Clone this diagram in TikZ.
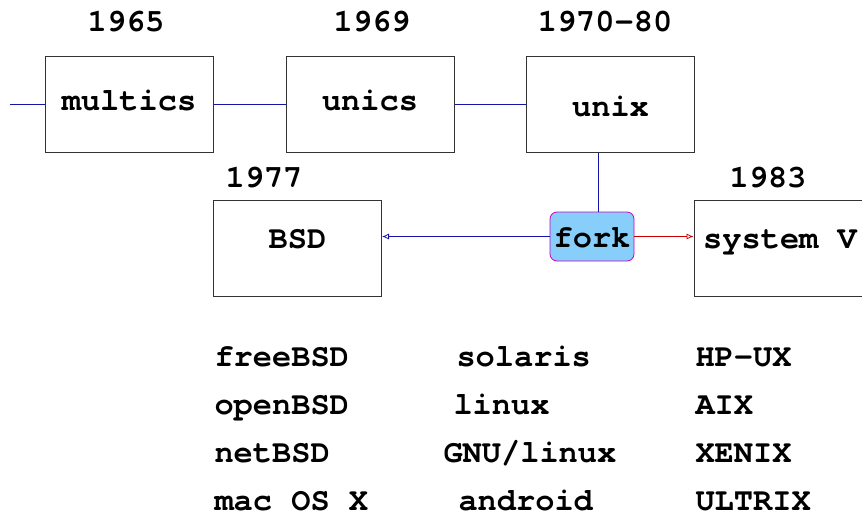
\documentclass[tikz,border=0pt]{standalone}
\usepackage{fontspec}
\newfontfamily\cursorfont{TeX Gyre Cursor}
\usetikzlibrary{positioning,arrows.meta,calc}
\tikzset{>={Latex[open,length=7pt,width=6pt]}}
\definecolor{linkblue}{RGB}{20,20,170}
\definecolor{forkred}{RGB}{200,0,0}
\definecolor{forkfill}{RGB}{135,206,250}
\definecolor{forkline}{RGB}{200,0,200}
\newcommand{\unixfont}{\cursorfont\bfseries\fontsize{32}{38}\selectfont}

\begin{document}
\begin{tikzpicture}[x=1pt, y=-1pt, every node/.style={font=\unixfont},
    box/.style={draw=black!80, line width=1pt, minimum width=168pt, minimum height=96pt,
      inner sep=0pt, text height=#1, text depth=0pt},
    box/.default=12pt,
    forkbox/.style={draw=forkline, fill=forkfill, rounded corners=7pt, line width=0.8pt,
      minimum width=84pt, minimum height=49pt, inner sep=0pt, text height=21pt, text depth=0pt},
    link/.style={draw=linkblue, line width=0.8pt}]
        \useasboundingbox (0,0) rectangle (862,514);

        % the line of systems
        \coordinate (origin) at (10,104);
        \node[box] (multics) at (129,104) {multics};
        \node[box] (unics) at (370,104) {unics};
        \node[box=24pt] (unix) at (610.5,104) {unix};
        \node[forkbox] (fork) at (592,236.5) {fork};
        \node[box=0pt] (BSD) at (297.5,248.5) {BSD};
        \node[box=0pt, minimum width=172pt] (sysV) at (780,248.5) {system V};

        % years
        \node[anchor=base] (y1965) at (126,31) {1965};
        \node[anchor=base] (y1969) at (372,31) {1969};
        \node[anchor=base] (y1970) at (605,31) {1970-80};
        \node[anchor=base] (y1977) at (264,187) {1977};
        \node[anchor=base] (y1983) at (768,187) {1983};

        \draw[link] (origin) -- (multics.west);
        \draw[link] (multics.east) -- (unics.west);
        \draw[link] (unics.east) -- (unix.west);
        \draw[link] ([xshift=6pt]fork.north) -- ([xshift=6pt]fork.north |- unix.south);
        \draw[link, ->] (fork.west) -- (fork.west -| BSD.east);
        \draw[draw=forkred, line width=0.8pt, ->] (fork.east) -- (fork.east -| sysV.west);

        % descendants
        \node[anchor=base west] (freebsd) at (211,366) {freeBSD};
        \node[anchor=base west] (openbsd) at (211,414) {openBSD};
        \node[anchor=base west] (netbsd) at (211,462) {netBSD};
        \node[anchor=base west] (macos) at (211,510) {mac OS X};
        \node[anchor=base west] (solaris) at (453,366) {solaris};
        \node[anchor=base west] (linux) at (450,414) {linux};
        \node[anchor=base west] (gnulinux) at (440,462) {GNU/linux};
        \node[anchor=base west] (android) at (455,510) {android};
        \node[anchor=base west] (hpux) at (692,366) {HP-UX};
        \node[anchor=base west] (aix) at (692,414) {AIX};
        \node[anchor=base west] (xenix) at (692,462) {XENIX};
        \node[anchor=base west] (ultrix) at (692,510) {ULTRIX};
\end{tikzpicture}
\end{document}
